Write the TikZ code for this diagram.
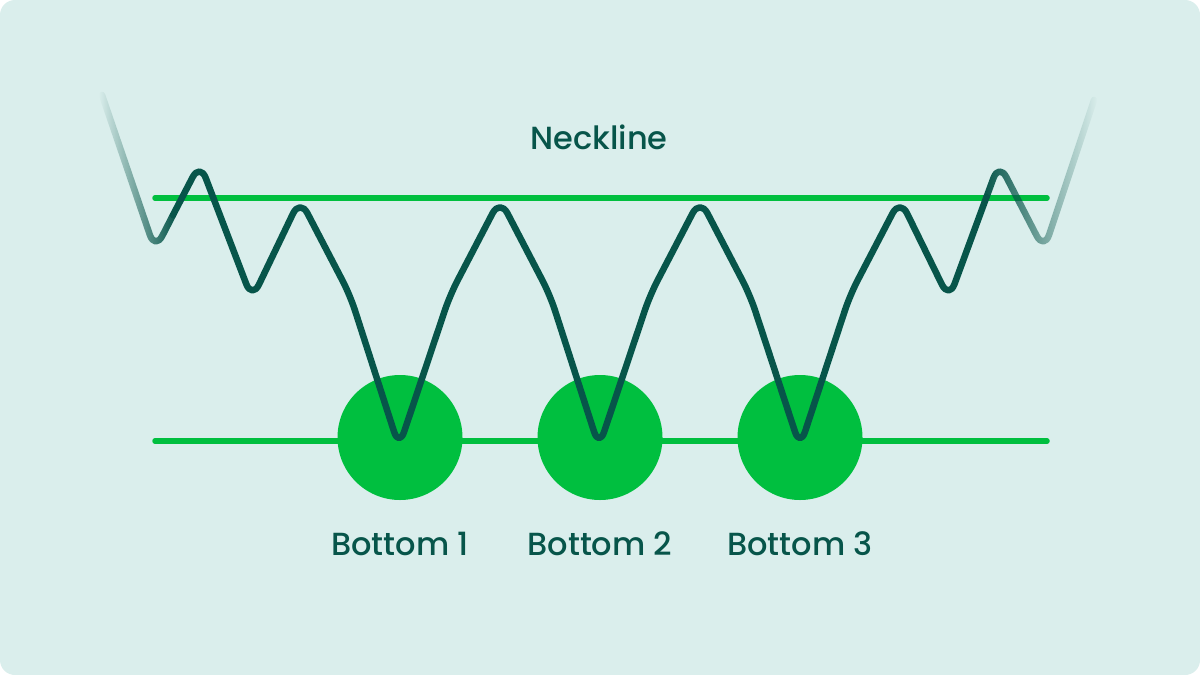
\documentclass[tikz,border=0pt]{standalone}
\usepackage{fontspec}
\setmainfont{Poppins}[UprightFont=* Medium]
\usetikzlibrary{fadings}
\definecolor{bgteal}{HTML}{DAEEEC}
\definecolor{darkgreen}{HTML}{07554A}
\definecolor{brightgreen}{HTML}{00BF3F}
\tikzfading[name=fadein, left color=transparent!100, middle color=transparent!15, right color=transparent!0]
\tikzfading[name=fadeout, left color=transparent!0, middle color=transparent!40, right color=transparent!100]
\begin{document}
\begin{tikzpicture}[x=1pt, y=-1pt, line cap=round, line join=round,
    price/.style = {draw=darkgreen, line width=6.5pt, rounded corners=16pt},
    greenln/.style = {draw=brightgreen, line width=5.5pt},
    dot/.style = {circle, fill=brightgreen, minimum size=125pt, inner sep=0pt},
    lbl/.style = {text=darkgreen, anchor=base, font=\fontsize{32}{38}\selectfont}]
    % background card
    \fill[white] (0,0) rectangle (1200,675);
    \fill[bgteal, rounded corners=15pt] (0,0) rectangle (1200,675);

    % support and neckline
    \coordinate (nl) at (155,198);
    \coordinate (nr) at (1047,198);
    \coordinate (sl) at (155,441);
    \coordinate (sr) at (1047,441);
    \draw[greenln] (sl) -- (sr);
    \draw[greenln] (nl) -- (nr);

    % the three bottoms
    \node[dot] (b1) at (400,437.5) {};
    \node[dot] (b2) at (600,437.5) {};
    \node[dot] (b3) at (800,437.5) {};

    % price line
    \draw[price, path fading=fadein] (102,95) -- (155,250) -- (173,215);
    \draw[price] (173,215) -- (200,163) -- (252,299) -- (300,199) -- (350,295)
        -- (399,447) -- (450,295) -- (500,199) -- (550,295)
        -- (599,447) -- (650,295) -- (700,199) -- (750,295)
        -- (800,447) -- (850,295) -- (900,199) -- (949,299) -- (986.5,197);
    \draw[price, path fading=fadeout] (986.5,197) -- (999,163) -- (1044,250) -- (1094,100);

    % texts
    \node[lbl] (neck) at (599,149) {Neckline};
    \node[lbl] (t1) at (400,555) {Bottom 1};
    \node[lbl] (t2) at (600,555) {Bottom 2};
    \node[lbl] (t3) at (800,555) {Bottom 3};
\end{tikzpicture}
\end{document}
